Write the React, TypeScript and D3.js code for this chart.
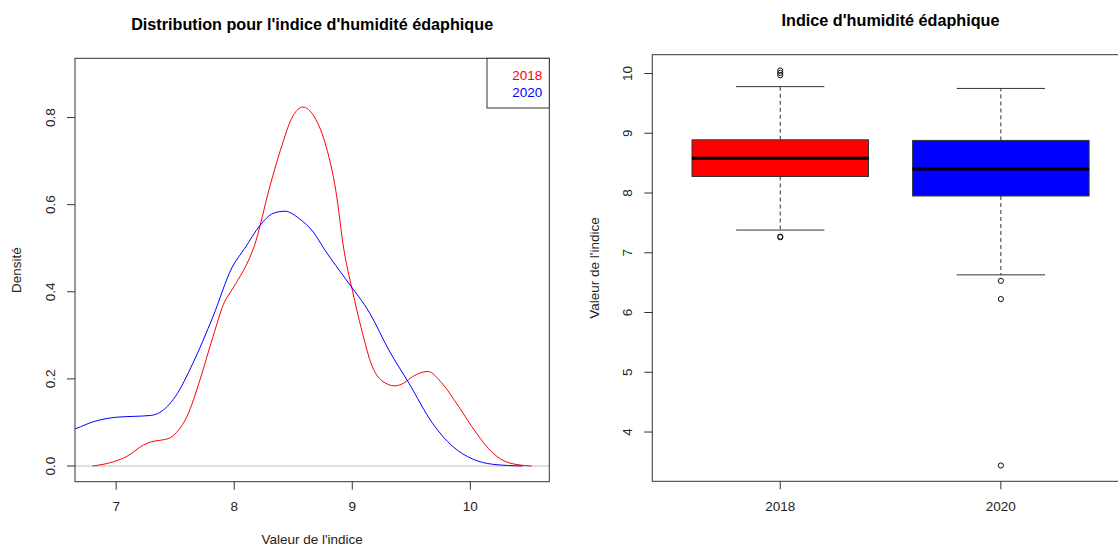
import React from "react";
import * as d3 from "d3";

// ---------- Data ----------
const densityX2018 = [6.80, 6.98, 7.09, 7.23, 7.30, 7.37, 7.45, 7.50, 7.60, 7.71, 7.82, 7.92, 7.97, 8.02, 8.09, 8.17, 8.30, 8.39, 8.50, 8.58, 8.68, 8.78, 8.86, 8.93, 9.00, 9.08, 9.17, 9.25, 9.36, 9.44, 9.51, 9.64, 9.76, 9.90, 10.05, 10.19, 10.33, 10.52];
const densityY2018 = [0.000, 0.010, 0.022, 0.048, 0.056, 0.059, 0.064, 0.074, 0.114, 0.198, 0.297, 0.378, 0.400, 0.422, 0.455, 0.505, 0.640, 0.724, 0.805, 0.824, 0.801, 0.732, 0.633, 0.495, 0.404, 0.312, 0.228, 0.196, 0.184, 0.191, 0.205, 0.217, 0.190, 0.137, 0.076, 0.030, 0.007, 0.000];

const densityX2020 = [6.60, 6.66, 6.81, 7.00, 7.15, 7.29, 7.37, 7.50, 7.65, 7.82, 7.98, 8.09, 8.22, 8.33, 8.43, 8.55, 8.67, 8.77, 8.95, 9.15, 9.31, 9.48, 9.68, 9.85, 10.02, 10.19, 10.44];
const densityY2020 = [0.080, 0.086, 0.102, 0.112, 0.114, 0.116, 0.123, 0.159, 0.236, 0.343, 0.455, 0.500, 0.553, 0.580, 0.585, 0.568, 0.537, 0.495, 0.427, 0.350, 0.266, 0.190, 0.098, 0.045, 0.016, 0.004, 0.000];

const densityXTicks = [7, 8, 9, 10];
const densityYTicks = [0, 0.2, 0.4, 0.6, 0.8];

const years = ["2018", "2020"];
const boxColors = ["#FF0000", "#0000FF"];
const whiskerLow = [7.38, 6.63];
const q1 = [8.276, 7.95];
const median = [8.58, 8.40];
const q3 = [8.89, 8.88];
const whiskerHigh = [9.78, 9.75];
const outliers2018 = [10.05, 10.01, 9.97, 7.27, 7.26];
const outliers2020 = [6.53, 6.225, 3.44];
const boxYTicks = [4, 5, 6, 7, 8, 9, 10];

// ---------- Layout ----------
const FONT = "'Liberation Sans', Arial, Helvetica, sans-serif";
const BASE = 13.5;
const AX = "#333333";

const L = { left: 75, right: 549.3, top: 58.3, bottom: 481.7 };
const R = { left: 652.3, right: 1128.8, top: 54.7, bottom: 481.3 };

function ext(lo: number, hi: number): [number, number] {
  const d = (hi - lo) * 0.04;
  return [lo - d, hi + d];
}

export default function App() {
  // density panel scales
  const xD = d3.scaleLinear().domain(ext(d3.min(densityX2018)!, d3.max(densityX2018)!)).range([L.left, L.right]);
  const yD = d3.scaleLinear().domain(ext(0, 0.9)).range([L.bottom, L.top]);
  const line = d3
    .line<[number, number]>()
    .x((d) => xD(d[0]))
    .y((d) => yD(d[1]))
    .curve(d3.curveMonotoneX);
  const pts2018 = densityX2018.map((x, i) => [x, densityY2018[i]] as [number, number]);
  const pts2020 = densityX2020.map((x, i) => [x, densityY2020[i]] as [number, number]);

  // boxplot scales
  const allVals = [...whiskerLow, ...whiskerHigh, ...outliers2018, ...outliers2020];
  const yB = d3.scaleLinear().domain(ext(d3.min(allVals)!, d3.max(allVals)!)).range([R.bottom, R.top]);
  const xB = d3.scaleLinear().domain([0.42, 2.58]).range([R.left, R.right]);
  const outliers = [outliers2018, outliers2020];

  const lMid = (L.left + L.right) / 2;
  const rMid = (R.left + R.right) / 2;

  return (
    <svg
      width={1118}
      height={547}
      style={{ position: "absolute", left: 0, top: 0, background: "#fff" }}
      fontFamily={FONT}
    >
      <defs>
        <clipPath id="clipL">
          <rect x={L.left} y={L.top} width={L.right - L.left} height={L.bottom - L.top} />
        </clipPath>
      </defs>

      {/* ---------- Left panel: densities ---------- */}
      <text x={lMid} y={29.5} textAnchor="middle" fontWeight="bold" fontSize={16.2} fill="#000">
        Distribution pour l'indice d'humidité édaphique
      </text>

      <g clipPath="url(#clipL)">
        <line x1={L.left} x2={L.right} y1={yD(0)} y2={yD(0)} stroke="#BEBEBE" strokeWidth={1} />
        <path d={line(pts2018)!} fill="none" stroke="#FF0000" strokeWidth={1} />
        <path d={line(pts2020)!} fill="none" stroke="#0000FF" strokeWidth={1} />
      </g>

      <rect x={L.left} y={L.top} width={L.right - L.left} height={L.bottom - L.top} fill="none" stroke={AX} strokeWidth={1} />

      {densityXTicks.map((t) => (
        <g key={"dx" + t}>
          <line x1={xD(t)} x2={xD(t)} y1={L.bottom} y2={L.bottom + 8} stroke={AX} />
          <text x={xD(t)} y={506.7} dy="0.35em" textAnchor="middle" fontSize={BASE} fill="#222">
            {t}
          </text>
        </g>
      ))}
      {densityYTicks.map((t) => (
        <g key={"dy" + t}>
          <line x1={L.left - 8} x2={L.left} y1={yD(t)} y2={yD(t)} stroke={AX} />
          <text
            transform={`translate(50,${yD(t)}) rotate(-90)`}
            dy="0.35em"
            textAnchor="middle"
            fontSize={BASE}
            fill="#222"
          >
            {t.toFixed(1)}
          </text>
        </g>
      ))}
      <text x={lMid} y={539.5} dy="0.35em" textAnchor="middle" fontSize={BASE} fill="#222">
        Valeur de l'indice
      </text>
      <text transform={`translate(16.7,${(L.top + L.bottom) / 2}) rotate(-90)`} dy="0.35em" textAnchor="middle" fontSize={BASE} fill="#222">
        Densité
      </text>

      {/* legend */}
      <rect x={487} y={L.top} width={L.right - 487} height={108 - L.top} fill="#fff" stroke={AX} strokeWidth={1} />
      <text x={512.3} y={75.7} dy="0.35em" fontSize={BASE} fill="#FF0000">2018</text>
      <text x={512.3} y={92.7} dy="0.35em" fontSize={BASE} fill="#0000FF">2020</text>

      {/* ---------- Right panel: boxplots ---------- */}
      <text x={rMid} y={25.9} textAnchor="middle" fontWeight="bold" fontSize={16.2} fill="#000">
        Indice d'humidité édaphique
      </text>

      {years.map((yr, i) => {
        const cx = xB(i + 1);
        const bw = xB(1.4) - xB(1); // half box width (0.4)
        const sw = xB(1.2) - xB(1); // half staple width (0.2)
        return (
          <g key={yr}>
            {/* whiskers */}
            <line x1={cx} x2={cx} y1={yB(q3[i])} y2={yB(whiskerHigh[i])} stroke={AX} strokeDasharray="4,3" />
            <line x1={cx} x2={cx} y1={yB(q1[i])} y2={yB(whiskerLow[i])} stroke={AX} strokeDasharray="4,3" />
            <line x1={cx - sw} x2={cx + sw} y1={yB(whiskerHigh[i])} y2={yB(whiskerHigh[i])} stroke={AX} />
            <line x1={cx - sw} x2={cx + sw} y1={yB(whiskerLow[i])} y2={yB(whiskerLow[i])} stroke={AX} />
            {/* box */}
            <rect
              x={cx - bw}
              y={yB(q3[i])}
              width={2 * bw}
              height={yB(q1[i]) - yB(q3[i])}
              fill={boxColors[i]}
              stroke={AX}
              strokeWidth={1}
            />
            <line x1={cx - bw} x2={cx + bw} y1={yB(median[i])} y2={yB(median[i])} stroke="#000" strokeWidth={3} />
            {/* outliers */}
            {outliers[i].map((v, k) => (
              <circle key={k} cx={cx} cy={yB(v)} r={2.6} fill="none" stroke="#111" strokeWidth={1} />
            ))}
            {/* x tick */}
            <line x1={cx} x2={cx} y1={R.bottom} y2={R.bottom + 8} stroke={AX} />
            <text x={cx} y={506.7} dy="0.35em" textAnchor="middle" fontSize={BASE} fill="#222">
              {yr}
            </text>
          </g>
        );
      })}

      <rect x={R.left} y={R.top} width={R.right - R.left} height={R.bottom - R.top} fill="none" stroke={AX} strokeWidth={1} />

      {boxYTicks.map((t) => (
        <g key={"by" + t}>
          <line x1={R.left - 8} x2={R.left} y1={yB(t)} y2={yB(t)} stroke={AX} />
          <text
            transform={`translate(${R.left - 25},${yB(t)}) rotate(-90)`}
            dy="0.35em"
            textAnchor="middle"
            fontSize={BASE}
            fill="#222"
          >
            {t}
          </text>
        </g>
      ))}
      <text transform={`translate(594.5,${(R.top + R.bottom) / 2}) rotate(-90)`} dy="0.35em" textAnchor="middle" fontSize={BASE} fill="#222">
        Valeur de l'indice
      </text>
    </svg>
  );
}
